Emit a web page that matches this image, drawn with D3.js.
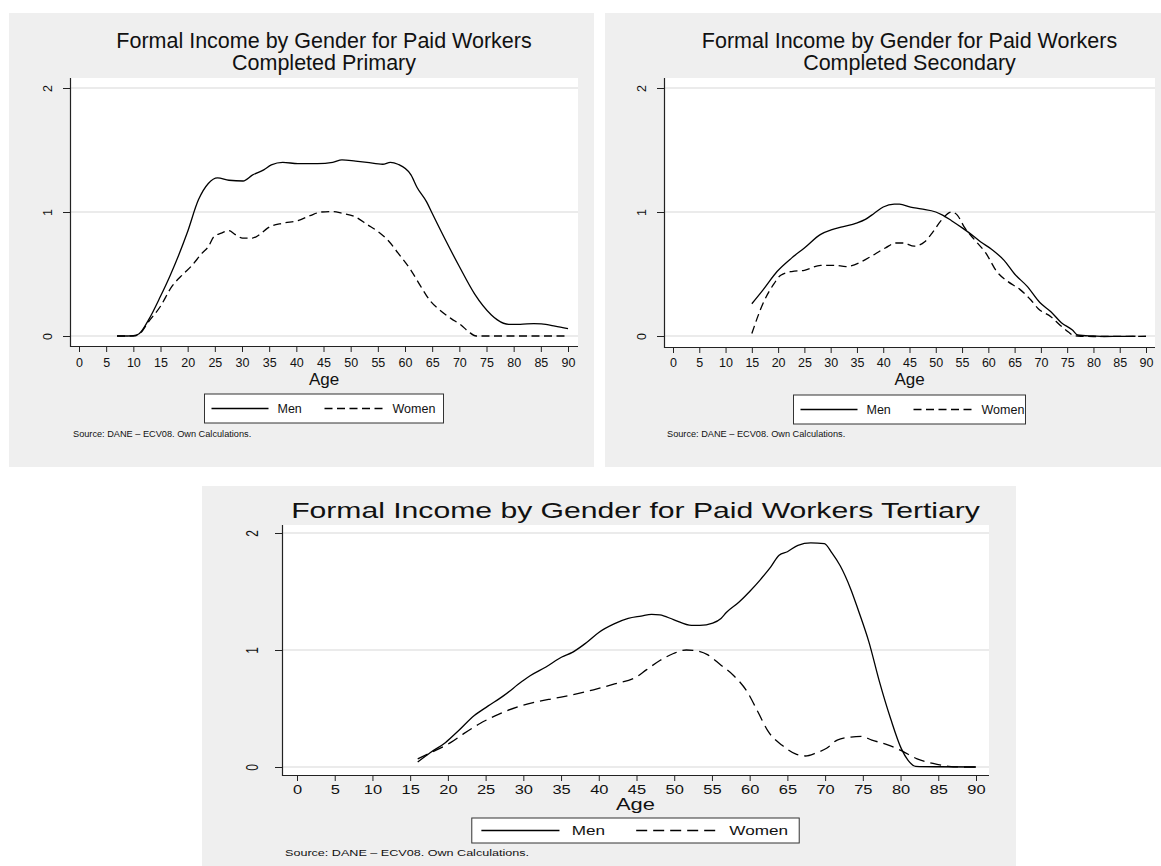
<!DOCTYPE html>
<html>
<head>
<meta charset="utf-8">
<script src="https://cdn.jsdelivr.net/npm/d3@7"></script>
<style>
  html, body { margin: 0; padding: 0; background: #ffffff; }
  svg { display: block; font-family: "Liberation Sans", Arial, Helvetica, sans-serif; }
</style>
</head>
<body>
<svg id="chart" width="1161" height="866"></svg>
<script>
// ---- Data -------------------------------------------------------------
const xTicks = [0, 5, 10, 15, 20, 25, 30, 35, 40, 45, 50, 55, 60, 65, 70, 75, 80, 85, 90];
const yTicks = [0, 1, 2];
const seriesNames = ["Men", "Women"];
const axisTitle = "Age";
const sourceNote = "Source: DANE \u2013 ECV08. Own Calculations.";
const titlePrimary = ["Formal Income by Gender for Paid Workers", "Completed Primary"];
const titleSecondary = ["Formal Income by Gender for Paid Workers", "Completed Secondary"];
const titleTertiary = ["Formal Income by Gender for Paid Workers Tertiary"];

// [age, relative formal income]
const primaryMen = [
  [7,0],[9,0],[10,0.003],[11,0.016],[12.8,0.13],[15,0.32],[16.7,0.48],[19.9,0.83],[22,1.10],
  [23.8,1.23],[25.5,1.275],[27.6,1.256],[30.2,1.25],[31.9,1.297],[34,1.34],[35.4,1.38],
  [37.5,1.40],[40.3,1.39],[43.9,1.39],[46.7,1.40],[48.4,1.42],[50.9,1.41],[53,1.40],
  [55.9,1.385],[57.3,1.40],[58.7,1.385],[61.1,1.30],[62.2,1.20],[64,1.08],[65,0.99],
  [67.5,0.77],[70,0.56],[72.8,0.34],[75.9,0.17],[77,0.13],[79.1,0.094],[81.2,0.094],
  [83.7,0.10],[85.1,0.097],[87.6,0.08],[90,0.06]
];
const primaryWomen = [
  [7,0],[10,0],[11,0.012],[12.8,0.115],[15,0.24],[17.1,0.40],[19.2,0.50],[20.6,0.56],
  [22.7,0.67],[23.8,0.72],[24.8,0.80],[26.2,0.83],[27.6,0.85],[28.7,0.82],[30.1,0.79],
  [31.9,0.79],[33.3,0.82],[34.7,0.87],[37.5,0.91],[40.3,0.93],[42.5,0.97],[44.6,1.0],
  [46.7,1.004],[48.4,0.99],[50.9,0.96],[53,0.90],[55.1,0.84],[56.9,0.77],[58.7,0.67],
  [61.1,0.53],[62.9,0.40],[64.7,0.28],[66.4,0.21],[68.5,0.14],[70.3,0.089],[71.7,0.035],
  [73.1,0],[80,0],[90,0]
];
const secondaryMen = [
  [15,0.26],[17.1,0.37],[19.8,0.52],[22.6,0.63],[25,0.71],[28.1,0.82],[30.1,0.855],
  [32.2,0.88],[34.9,0.91],[36.6,0.94],[38.3,0.99],[40,1.04],[42.1,1.063],[43.1,1.063],
  [45.2,1.04],[47.2,1.025],[50,1.0],[51.3,0.975],[53,0.93],[55.1,0.87],[57.2,0.805],
  [58.5,0.76],[60.6,0.70],[63,0.61],[65,0.50],[67.4,0.40],[69.8,0.27],[71.9,0.196],
  [73.9,0.107],[76,0.048],[77,0.008],[80,0],[82,-0.004],[85,-0.003],[88,-0.002]
];
const secondaryWomen = [
  [15,0.02],[17.1,0.26],[19.2,0.42],[20.5,0.49],[22.6,0.52],[25,0.53],[28.1,0.57],
  [30.8,0.57],[32.9,0.56],[35.9,0.60],[37.6,0.64],[40.4,0.71],[42.4,0.75],[43.8,0.75],
  [45.9,0.725],[47.9,0.76],[49.3,0.83],[51,0.93],[53,1.0],[54.1,0.975],[55.4,0.88],
  [57.5,0.77],[59.5,0.67],[61.6,0.52],[63.7,0.44],[66,0.376],[68.1,0.29],[69.5,0.22],
  [71.9,0.156],[73.6,0.089],[75.3,0.03],[76,0.008],[77,0],[80,-0.004],[85,-0.003],[90,-0.002]
];
const tertiaryMen = [
  [16,0.043],[17.6,0.12],[19.7,0.21],[21.4,0.31],[23.5,0.44],[25.3,0.52],[27.4,0.61],
  [29.8,0.73],[30.9,0.78],[33,0.855],[35.1,0.94],[36.5,0.98],[38.3,1.06],[40,1.15],
  [42.1,1.225],[43.9,1.27],[45.6,1.29],[47,1.305],[48.1,1.30],[49.9,1.26],[52.3,1.21],
  [53.4,1.21],[55.1,1.23],[56.2,1.27],[56.9,1.32],[58.6,1.41],[60,1.50],[61.4,1.60],
  [62.8,1.71],[63.9,1.81],[65,1.84],[66.4,1.895],[68.1,1.915],[69.9,1.91],[70.9,1.83],
  [72,1.72],[73.4,1.52],[74.4,1.34],[75.8,1.07],[77.2,0.73],[78.7,0.41],[80.1,0.157],
  [81,0.057],[82,0.006],[85,0.002],[90,0]
];
const tertiaryWomen = [
  [16,0.07],[18.3,0.14],[20.4,0.21],[22.1,0.285],[24.2,0.37],[26.7,0.45],[29.5,0.52],
  [31.6,0.555],[34.4,0.59],[37.2,0.627],[39.3,0.66],[42.1,0.71],[45,0.77],[46.3,0.83],
  [48.1,0.91],[49.9,0.97],[51.6,1.0],[52.7,0.995],[54.4,0.96],[56.2,0.87],[57.9,0.78],
  [59.7,0.64],[61.1,0.47],[62.5,0.30],[64.3,0.185],[66,0.114],[67.4,0.094],[68.8,0.12],
  [70.2,0.16],[71.6,0.23],[73.4,0.256],[74.8,0.262],[76.2,0.23],[78.3,0.19],[80.1,0.14],
  [82.2,0.07],[84.3,0.03],[86.4,0.006],[88,0],[90,0]
];

// ---- Layout of the three graphs --------------------------------------
const panels = [
  {
    title: titlePrimary, men: primaryMen, women: primaryWomen,
    frame: { x: 9, y: 13, w: 585, h: 454 },
    plot: { l: 70, r: 578, t: 78, b: 346 },
    xr: [79, 568], yr: [336, 88], sx: 1,
    titleY: [48, 70], titleSize: 21.5,
    tickSize: 12.5, tickPad: 6, ageY: 385, ageSize: 17,
    legend: { top: 394, h: 29, w: 239 }, legendSize: 12.5,
    sourceY: 437, dash: "8,4.5"
  },
  {
    title: titleSecondary, men: secondaryMen, women: secondaryWomen,
    frame: { x: 605, y: 13, w: 556, h: 454 },
    plot: { l: 664, r: 1155, t: 78, b: 347 },
    xr: [673, 1146], yr: [336, 88], sx: 1,
    titleY: [48, 70], titleSize: 21.5,
    tickSize: 12.5, tickPad: 5, ageY: 385, ageSize: 17,
    legend: { top: 395, h: 29, w: 232 }, legendSize: 12.5,
    sourceY: 437, dash: "8,4.5"
  },
  {
    title: titleTertiary, men: tertiaryMen, women: tertiaryWomen,
    frame: { x: 202, y: 486, w: 814, h: 380 },
    plot: { l: 282, r: 989, t: 525, b: 775 },
    xr: [297, 976], yr: [767, 533], sx: 1.37,
    titleY: [518], titleSize: 22,
    tickSize: 12, tickPad: 4, ageY: 810, ageSize: 16,
    legend: { top: 818, h: 25, w: 239 }, legendSize: 12.5,
    sourceY: 856, dash: "11,6"
  }
];

const svg = d3.select("#chart");

// Text helper: horizontally stretched text anchored at (x, y)
function label(g, x, y, str, size, anchor, sx) {
  return g.append("text")
    .attr("transform", `translate(${x},${y}) scale(${sx},1)`)
    .attr("text-anchor", anchor)
    .attr("font-size", size)
    .attr("fill", "#111")
    .text(str);
}

function drawPanel(p) {
  const g = svg.append("g");
  const cx = (p.plot.l + p.plot.r) / 2;

  // background and plot region
  g.append("rect")
    .attr("x", p.frame.x).attr("y", p.frame.y)
    .attr("width", p.frame.w).attr("height", p.frame.h)
    .attr("fill", "#efefef");
  g.append("rect")
    .attr("x", p.plot.l).attr("y", p.plot.t)
    .attr("width", p.plot.r - p.plot.l).attr("height", p.plot.b - p.plot.t)
    .attr("fill", "#ffffff");

  const x = d3.scaleLinear().domain([0, 90]).range(p.xr);
  const y = d3.scaleLinear().domain([0, 2]).range(p.yr);

  // horizontal grid lines
  g.append("g").selectAll("line")
    .data(yTicks)
    .join("line")
    .attr("x1", p.plot.l + 1).attr("x2", p.plot.r)
    .attr("y1", d => y(d)).attr("y2", d => y(d))
    .attr("stroke", "#e4e4e4")
    .attr("stroke-width", 1.6);

  // income curves
  const line = d3.line()
    .x(d => x(d[0]))
    .y(d => y(d[1]))
    .curve(d3.curveMonotoneX);
  g.append("path")
    .datum(p.women)
    .attr("d", line)
    .attr("fill", "none")
    .attr("stroke", "#000")
    .attr("stroke-width", 1.3)
    .attr("stroke-dasharray", p.dash);
  g.append("path")
    .datum(p.men)
    .attr("d", line)
    .attr("fill", "none")
    .attr("stroke", "#000")
    .attr("stroke-width", 1.3);

  // x axis
  const gx = g.append("g")
    .attr("transform", `translate(0,${p.plot.b})`)
    .call(d3.axisBottom(x).tickValues(xTicks).tickFormat(d3.format("d"))
      .tickSize(6).tickPadding(p.tickPad).tickSizeOuter(0));
  gx.select(".domain").remove();
  gx.selectAll(".tick line").attr("stroke", "#222");
  gx.selectAll(".tick text")
    .attr("font-size", p.tickSize)
    .attr("font-family", "Liberation Sans, Arial, sans-serif")
    .attr("fill", "#111")
    .attr("transform", `scale(${p.sx},1)`);
  g.append("line")
    .attr("x1", p.plot.l).attr("x2", p.plot.r)
    .attr("y1", p.plot.b + 0.5).attr("y2", p.plot.b + 0.5)
    .attr("stroke", "#222").attr("stroke-width", 1.2);

  // y axis
  const gy = g.append("g")
    .attr("transform", `translate(${p.plot.l},0)`)
    .call(d3.axisLeft(y).tickValues(yTicks).tickFormat(d3.format("d"))
      .tickSize(7).tickSizeOuter(0));
  gy.select(".domain").remove();
  gy.selectAll(".tick line").attr("stroke", "#222");
  gy.selectAll(".tick text")
    .attr("font-size", p.tickSize)
    .attr("font-family", "Liberation Sans, Arial, sans-serif")
    .attr("fill", "#111")
    .attr("text-anchor", "middle")
    .attr("x", 0)
    .attr("y", -22)
    .attr("dy", "0.35em")
    .attr("transform", `scale(${p.sx},1) rotate(-90)`);
  g.append("line")
    .attr("x1", p.plot.l + 0.5).attr("x2", p.plot.l + 0.5)
    .attr("y1", p.plot.t).attr("y2", p.plot.b + 1)
    .attr("stroke", "#222").attr("stroke-width", 1.2);

  // titles
  p.title.forEach((t, i) => label(g, cx, p.titleY[i], t, p.titleSize, "middle", p.sx));
  label(g, cx, p.ageY, axisTitle, p.ageSize, "middle", p.sx);

  // legend
  const lw = p.legend.w * p.sx;
  const lx = cx - lw / 2;
  const ly = p.legend.top;
  const lg = g.append("g");
  lg.append("rect")
    .attr("x", lx).attr("y", ly)
    .attr("width", lw).attr("height", p.legend.h)
    .attr("fill", "#ffffff")
    .attr("stroke", "#333").attr("stroke-width", 1);
  const midY = ly + p.legend.h / 2;
  const items = [
    { name: seriesNames[0], x0: 7, x1: 64, tx: 73, dash: null },
    { name: seriesNames[1], x0: 120, x1: 178, tx: 188, dash: p.dash }
  ];
  items.forEach(it => {
    lg.append("line")
      .attr("x1", lx + it.x0 * p.sx).attr("x2", lx + it.x1 * p.sx)
      .attr("y1", midY).attr("y2", midY)
      .attr("stroke", "#000").attr("stroke-width", 1.3)
      .attr("stroke-dasharray", it.dash);
    label(lg, lx + it.tx * p.sx, midY + 4.5, it.name, p.legendSize, "start", p.sx);
  });

  // source note
  label(g, p.plot.l + 3, p.sourceY, sourceNote, 9.2, "start", p.sx);
}

panels.forEach(drawPanel);
</script>
</body>
</html>
